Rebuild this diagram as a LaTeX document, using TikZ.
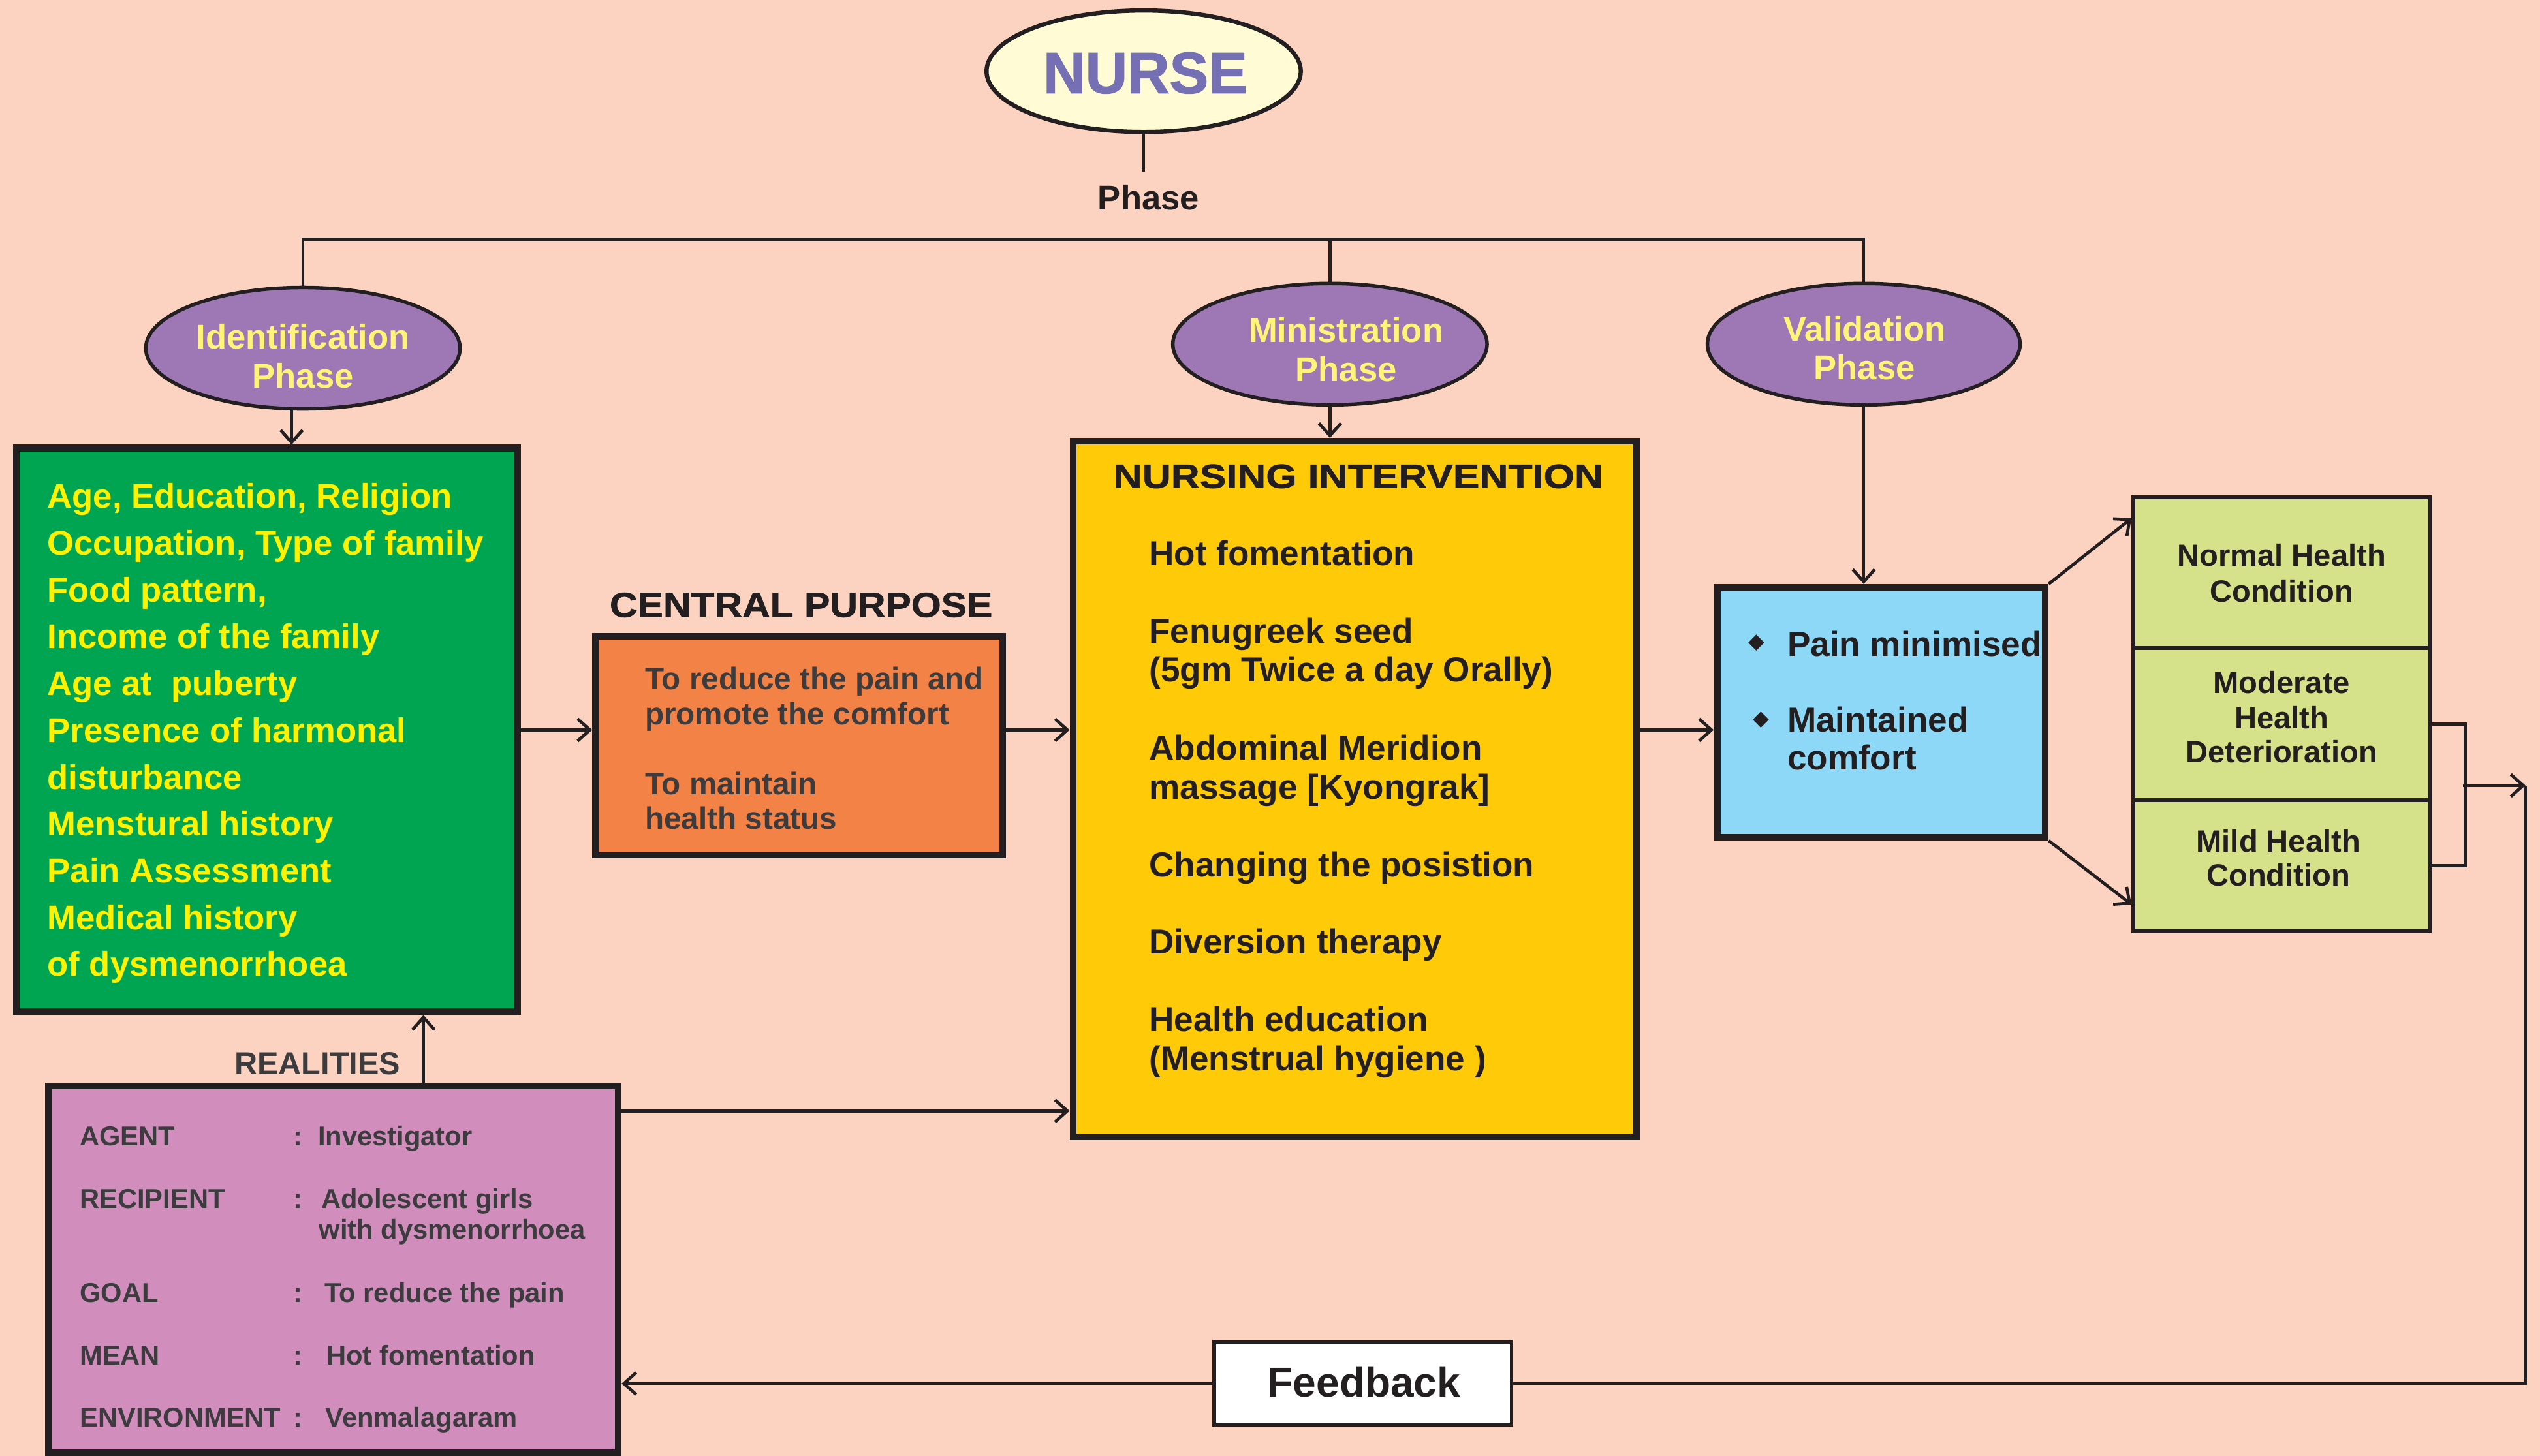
\documentclass[tikz,border=0pt]{standalone}
\usepackage{fontspec}
\setmainfont{Liberation Sans}
\newfontfamily\headwide[FakeStretch=1.18,FakeBold=1.2]{Liberation Sans}
\newfontfamily\headsemi[FakeStretch=1.1,FakeBold=1.2]{Liberation Sans}
\newfontfamily\heavy[FakeBold=1.5]{Liberation Sans}
\newfontfamily\symfont{DejaVu Sans}
\usetikzlibrary{arrows.meta,shapes.geometric}

\definecolor{bgpeach}{HTML}{FCD3C1}
\definecolor{ink}{HTML}{231F20}
\definecolor{graytext}{HTML}{3C3C3E}
\definecolor{nursefill}{HTML}{FFFBD5}
\definecolor{nursetext}{HTML}{7570B3}
\definecolor{phasefill}{HTML}{9E78B5}
\definecolor{phasetext}{HTML}{FFF378}
\definecolor{greenfill}{HTML}{00A551}
\definecolor{greentext}{HTML}{FFF200}
\definecolor{orangefill}{HTML}{F28246}
\definecolor{yellowfill}{HTML}{FFCA08}
\definecolor{bluefill}{HTML}{8DD8F7}
\definecolor{limefill}{HTML}{D5E28A}
\definecolor{pinkfill}{HTML}{D18EBD}

% bold text at a given size
\newcommand\fs[1]{\fontsize{#1}{#1}\selectfont\bfseries}

\begin{document}
\begin{tikzpicture}[x=0.5pt,y=-0.5pt,
  panel/.style={draw=ink, line width=2.1pt, inner sep=0pt, rectangle},
  cell/.style={draw=ink, line width=1.2pt, inner sep=0pt, rectangle, fill=limefill,
    minimum width=91.5pt},
  phaseoval/.style={ellipse, draw=ink, line width=1.1pt, fill=phasefill, inner sep=0pt,
    minimum width=97pt, minimum height=37.5pt},
  conn/.style={draw=ink, line width=0.95pt},
  arr/.style={conn, -{Straight Barb[length=3.8pt,width=6.8pt,line width=0.95pt]}},
  txt/.style={inner sep=0pt, anchor=base west},
  ctxt/.style={inner sep=0pt, anchor=base},
]
% page
\fill[bgpeach] (0,0) rectangle (1568,899);
\useasboundingbox (0,0) rectangle (1568,899);

% ---------- top: nurse and the phase bus ----------
\node[ellipse, draw=ink, line width=1.3pt, fill=nursefill, inner sep=0pt,
      minimum width=97pt, minimum height=37.5pt] (nurse) at (706,44) {};
\node[ctxt, text=nursetext] (nursetxt) at (707,57.5) {\heavy\fs{18}NURSE};
\coordinate (nurseend) at (706,106);
\draw[conn] (nurse.south) -- (nurseend);
\node[ctxt, text=ink] (phaselbl) at (709,129.6) {\fs{10.6}Phase};

\node[phaseoval] (ident) at (187,215) {};
\node[phaseoval] (minis) at (821,212.5) {};
\node[phaseoval, minimum width=96.5pt] (valid) at (1150.5,212.5) {};
\node[ctxt, text=phasetext] (identa) at (187,215.2) {\fs{10.6}Identification};
\node[ctxt, text=phasetext] (identb) at (187,239.5) {\fs{10.6}Phase};
\node[ctxt, text=phasetext] (minisa) at (831,211.5) {\fs{10.6}Ministration};
\node[ctxt, text=phasetext] (minisb) at (831,235.5) {\fs{10.6}Phase};
\node[ctxt, text=phasetext] (valida) at (1151,210.5) {\fs{10.6}Validation};
\node[ctxt, text=phasetext] (validb) at (1151,234.5) {\fs{10.6}Phase};

\coordinate (busL) at (187,147.8);
\coordinate (busR) at (1150.5,147.8);
\draw[conn] (ident.north) -- (busL) -- (busR) -- (valid.north);
\draw[conn] (minis.north) -- (minis.north |- busL);

% ---------- main boxes ----------
\node[panel, fill=greenfill, minimum width=154.75pt, minimum height=174pt] (green) at (164.75,450.7) {};
\node[panel, fill=orangefill, minimum width=125.65pt, minimum height=67.6pt] (orange) at (493.35,460.4) {};
\node[panel, fill=yellowfill, minimum width=173.8pt, minimum height=214.75pt] (yellow) at (836.2,487.25) {};
\node[panel, fill=bluefill, minimum width=101.3pt, minimum height=77.15pt] (blue) at (1161.3,439.85) {};
\node[panel, fill=pinkfill, minimum width=175.8pt, minimum height=113.25pt] (real) at (205.8,783.75) {};
\node[draw=ink, line width=1.1pt, fill=white, inner sep=0pt, minimum width=91.75pt,
      minimum height=25.7pt] (feedback) at (841.25,854.3) {};

\node[cell, minimum height=46.5pt] (s1) at (1408.5,353.5) {};
\node[cell, minimum height=47pt] (s2) at (1408.5,447) {};
\node[cell, minimum height=40.5pt] (s3) at (1408.5,534.5) {};

% ---------- texts ----------
\foreach \tx [count=\k from 0] in {{Age, Education, Religion},{Occupation, Type of family},
  {Food pattern,},{Income of the family},{Age at\ \ puberty},{Presence of harmonal},
  {disturbance},{Menstural history},{Pain Assessment},{Medical history},{of dysmenorrhoea}}
  \node[txt, text=greentext] (gl\k) at (28.9,{313.8+28.9*\k}) {\fs{10.6}\tx};

\node[txt, text=ink] (cphead) at (376,381) {\headsemi\fs{10.8}CENTRAL PURPOSE};
\node[txt, text=graytext] (cp1) at (397.8,425.8) {\fs{9.6}To reduce the pain and};
\node[txt, text=graytext] (cp2) at (397.8,447.6) {\fs{9.6}promote the comfort};
\node[txt, text=graytext] (cp3) at (397.8,490.6) {\fs{9.6}To maintain};
\node[txt, text=graytext] (cp4) at (397.8,511.8) {\fs{9.6}health status};

\node[txt, text=ink] (nihead) at (687,301.3) {\headwide\fs{10.4}NURSING INTERVENTION};
\foreach \yy/\tx [count=\k] in {349.3/{Hot fomentation}, 397/{Fenugreek seed},
  421/{(5gm Twice a day Orally)}, 469.3/{Abdominal Meridion}, 493.3/{massage [Kyongrak]},
  541.3/{Changing the posistion}, 589/{Diversion therapy}, 637/{Health education},
  661/{(Menstrual hygiene )}}
  \node[txt, text=ink] (ni\k) at (709,\yy) {\fs{10.7}\tx};

\node[inner sep=0pt, text=ink] (bul1) at (1084.5,397) {\symfont\fontsize{6.5}{6.5}\selectfont ◆};
\node[inner sep=0pt, text=ink] (bul2) at (1087,444.5) {\symfont\fontsize{6.5}{6.5}\selectfont ◆};
\node[txt, text=ink] (out1) at (1103,405) {\fs{10.7}Pain minimised};
\node[txt, text=ink] (out2) at (1103,452) {\fs{10.7}Maintained};
\node[txt, text=ink] (out3) at (1103,475.5) {\fs{10.7}comfort};

\node[ctxt, text=ink] (s1a) at (1408.5,349.5) {\fs{9.5}Normal Health};
\node[ctxt, text=ink] (s1b) at (1408.5,371.6) {\fs{9.5}Condition};
\node[ctxt, text=ink] (s2a) at (1408.5,428) {\fs{9.5}Moderate};
\node[ctxt, text=ink] (s2b) at (1408.5,450) {\fs{9.5}Health};
\node[ctxt, text=ink] (s2c) at (1408.5,471) {\fs{9.5}Deterioration};
\node[ctxt, text=ink] (s3a) at (1406.5,526) {\fs{9.5}Mild Health};
\node[ctxt, text=ink] (s3b) at (1406.5,547) {\fs{9.5}Condition};

\node[txt, text=graytext] (reallbl) at (144.4,663.4) {\fs{9.8}REALITIES};
\foreach \yy/\lab/\val/\vx [count=\k] in {707.5/AGENT/Investigator/195.9,
  746.1/RECIPIENT/Adolescent girls/197.9, 804/GOAL/To reduce the pain/200,
  842.9/MEAN/Hot fomentation/201.2, 881/ENVIRONMENT/Venmalagaram/200.5}
{
  \node[txt, text=graytext] (rl\k) at (48.9,\yy) {\fs{8.4}\lab};
  \node[txt, text=graytext] (rc\k) at (180.6,\yy) {\fs{8.4}:};
  \node[txt, text=graytext] (rv\k) at (\vx,\yy) {\fs{8.4}\val};
}
\node[txt, text=graytext] (rvx) at (196.6,765.1) {\fs{8.4}with dysmenorrhoea};

\node[ctxt, text=ink] (fbtxt) at (842,862.4) {\fs{12.9}Feedback};

% ---------- connectors ----------
\draw[arr] ([xshift=-3.5pt]ident.south) -- ([xshift=-3.5pt]ident.south |- green.north);
\draw[arr] (minis.south) -- (minis.south |- yellow.north);
\draw[arr] (valid.south) -- (valid.south |- blue.north);

\draw[arr] (green.east) -- (green.east -| orange.west);
\draw[arr] (orange.east |- green.east) -- (green.east -| yellow.west);
\draw[arr] (yellow.east |- green.east) -- (green.east -| blue.west);

\draw[arr] (blue.north east) -- ([yshift=16.75pt]s1.west);
\draw[arr] (blue.south east) -- ([yshift=-12pt]s3.west);

\draw[conn] (s2.east) -- ++(20.5,0) |- (s3.east);
\coordinate (brk) at (1520.5,485);
\coordinate (ret) at (1559,485);
\draw[arr] (brk) -- (ret);
\draw[conn] (ret) |- (feedback.east);
\draw[arr] (feedback.west) -- (feedback.west -| real.east);

\coordinate (rA) at ([yshift=48.9pt]real.east);
\draw[arr] (rA) -- (rA -| yellow.west);
\coordinate (rB) at ([xshift=27.8pt]real.north);
\draw[arr] (rB) -- (rB |- green.south);
\end{tikzpicture}
\end{document}
